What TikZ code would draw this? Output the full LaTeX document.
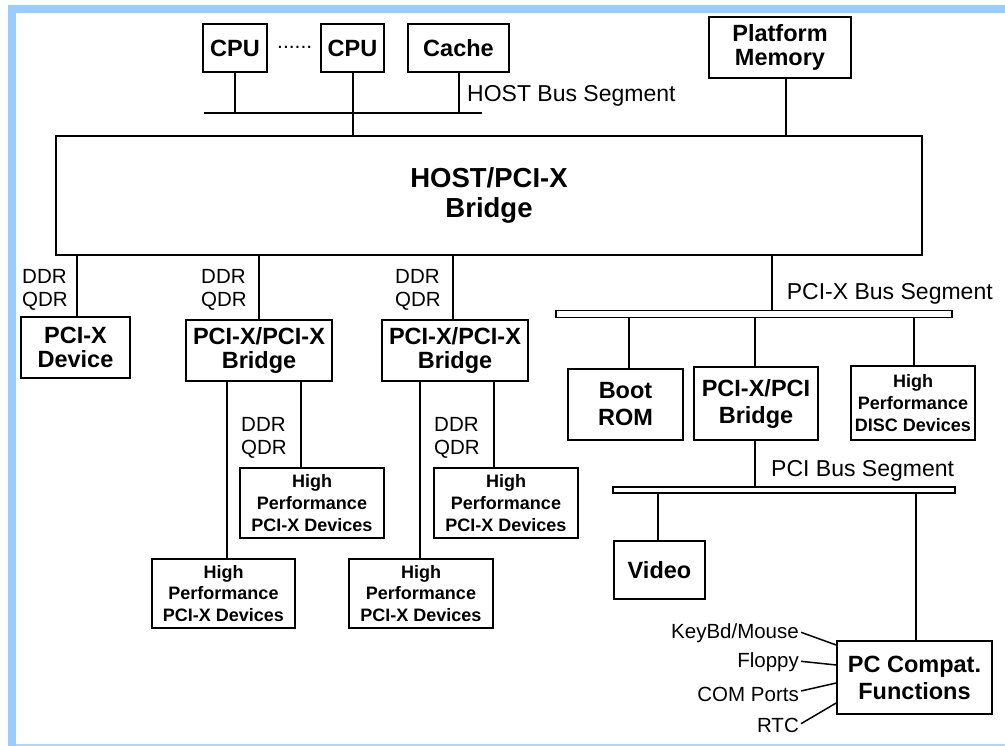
\documentclass[tikz,border=0pt]{standalone}
\usepackage{fontspec}
\setmainfont{Liberation Sans}
\usetikzlibrary{calc}
\definecolor{framebl}{RGB}{153,204,255}

\begin{document}
\begin{tikzpicture}[x=1pt,y=-1pt,
  box/.style={draw, line width=1.6pt, inner sep=0pt, align=center,
    font=\bfseries\fontsize{23.5}{24}\selectfont},
  wbox/.style={box, font=\bfseries\fontsize{23.5}{27}\selectfont},
  sbox/.style={box, font=\bfseries\fontsize{18}{21.7}\selectfont},
  bigbox/.style={box, font=\bfseries\fontsize{27.5}{30}\selectfont},
  bus/.style={draw, line width=1.5pt, inner sep=0pt, minimum height=7pt},
  hostbus/.style={line width=2.6pt},
  wire/.style={line width=2pt},
  thinwire/.style={line width=1.5pt},
  rate/.style={inner sep=0pt, align=left, anchor=west,
    font=\fontsize{20.5}{23}\selectfont},
  buslabel/.style={inner sep=0pt, anchor=base west,
    font=\fontsize{23}{27}\selectfont},
  sidelabel/.style={inner sep=0pt, anchor=base east,
    font=\fontsize{20.5}{24}\selectfont}]

\useasboundingbox (0,0) rectangle (1005,746);
\fill[white] (0,0) rectangle (1005,746);

% frame
\fill[framebl] (8,5) rectangle (1005,13);
\fill[framebl] (8,5) rectangle (16,746);
\fill[framebl!80] (16,743.5) rectangle (1005,745.5);

% host side
\node[box, minimum width=64pt, minimum height=48pt] (cpua) at (235,48) {CPU};
\node[box, minimum width=63pt, minimum height=48pt] (cpub) at (352.5,48) {CPU};
\node[inner sep=0pt, anchor=base west, font=\fontsize{21}{24}\selectfont]
  (dots) at (277,48.5) {......};
\node[box, minimum width=101pt, minimum height=48pt] (cache) at (458.5,48) {Cache};
\node[box, minimum width=142pt, minimum height=61pt] (pmem) at (780,47.5) {Platform\\Memory};
\node[bigbox, minimum width=866pt, minimum height=119pt] (host) at (489,195.5) {HOST/PCI-X\\Bridge};

\coordinate (hbL) at (204,113);
\coordinate (hbR) at (482,113);
\draw[hostbus] (hbL) -- (hbR);
\node[buslabel] (hblabel) at (467,101.7) {HOST Bus Segment};

\draw[wire] (cpua.south) -- (cpua.south |- hbL);
\draw[wire] (cache.south) -- (cache.south |- hbL);
\draw[wire] (cpub.south) -- (cpub.south |- host.north);
\coordinate (xpm) at (786,0);
\draw[wire] (pmem.south -| xpm) -- (host.north -| xpm);

% PCI-X side, left
\node[box, minimum width=109pt, minimum height=61pt] (pxdev) at (75.5,347.5) {PCI-X\\Device};
\node[box, minimum width=146pt, minimum height=61pt] (brA) at (259,350.5) {PCI-X/PCI-X\\Bridge};
\node[box, minimum width=146pt, minimum height=61pt] (brB) at (455,350.5) {PCI-X/PCI-X\\Bridge};

\coordinate (xdev) at (76.5,0);
\coordinate (xbrA) at (259.3,0);
\coordinate (xbrB) at (453,0);
\draw[wire] (host.south -| xdev) -- (pxdev.north -| xdev);
\draw[wire] (host.south -| xbrA) -- (brA.north -| xbrA);
\draw[wire] (host.south -| xbrB) -- (brB.north -| xbrB);

\node[rate] (rdev) at (22,290) {DDR\\QDR};
\node[rate] (rbrA) at (201,290) {DDR\\QDR};
\node[rate] (rbrB) at (395,290) {DDR\\QDR};

\node[sbox, minimum width=144pt, minimum height=70pt] (hpA1) at (312,503) {High\\Performance\\PCI-X Devices};
\node[sbox, minimum width=143pt, minimum height=69pt] (hpA2) at (223.5,593.5) {High\\Performance\\PCI-X Devices};
\node[sbox, minimum width=144pt, minimum height=70pt] (hpB1) at (506,503) {High\\Performance\\PCI-X Devices};
\node[sbox, minimum width=144pt, minimum height=69pt] (hpB2) at (421,593.5) {High\\Performance\\PCI-X Devices};

\coordinate (xA2) at (227,0);
\coordinate (xA1) at (301,0);
\coordinate (xB2) at (420,0);
\coordinate (xB1) at (494,0);
\draw[wire] (brA.south -| xA2) -- (hpA2.north -| xA2);
\draw[wire] (brA.south -| xA1) -- (hpA1.north -| xA1);
\draw[wire] (brB.south -| xB2) -- (hpB2.north -| xB2);
\draw[wire] (brB.south -| xB1) -- (hpB1.north -| xB1);

\node[rate] (rA) at (241,438) {DDR\\QDR};
\node[rate] (rB) at (434,438) {DDR\\QDR};

% PCI-X bus segment
\node[bus, minimum width=396pt] (pxbus) at (754,314) {};
\node[buslabel] (pxlabel) at (786.7,299.3) {PCI-X Bus Segment};
\coordinate (xpx) at (772.3,0);
\draw[wire] (host.south -| xpx) -- (pxbus.north -| xpx);

\node[wbox, minimum width=115pt, minimum height=71pt] (boot) at (625.5,404.5) {Boot\\ROM};
\node[wbox, minimum width=124pt, minimum height=73pt] (pcib) at (756,403.5) {PCI-X/PCI\\Bridge};
\node[sbox, minimum width=124pt, minimum height=74pt] (disc) at (913,403) {High\\Performance\\DISC Devices};

\coordinate (xboot) at (629,0);
\coordinate (xpcib) at (755,0);
\coordinate (xdisc) at (914.3,0);
\draw[wire] (pxbus.south -| xboot) -- (boot.north -| xboot);
\draw[wire] (pxbus.south -| xpcib) -- (pcib.north -| xpcib);
\draw[wire] (pxbus.south -| xdisc) -- (disc.north -| xdisc);

% PCI bus segment
\node[bus, minimum width=342pt, minimum height=6pt] (pcibus) at (784,490) {};
\node[buslabel] (pcilabel) at (771,476.7) {PCI Bus Segment};
\draw[wire] (pcib.south -| xpcib) -- (pcibus.north -| xpcib);

\node[box, minimum width=91pt, minimum height=58pt] (video) at (659.5,570) {Video};
\node[wbox, minimum width=155pt, minimum height=73pt] (pcc) at (914.5,677.5) {PC Compat.\\Functions};

\coordinate (xvid) at (658.3,0);
\coordinate (xpcc) at (916,0);
\draw[wire] (pcibus.south -| xvid) -- (video.north -| xvid);
\draw[wire] (pcibus.south -| xpcc) -- (pcc.north -| xpcc);

% legacy interfaces
\node[sidelabel] (kbd) at (799,638.3) {KeyBd/Mouse};
\node[sidelabel] (flp) at (799,667.3) {Floppy};
\node[sidelabel] (com) at (799,701) {COM Ports};
\node[sidelabel] (rtc) at (799,732.7) {RTC};

\draw[thinwire] ($(kbd.base east)+(2,-6)$) -- ($(pcc.west)+(0,-32.5)$);
\draw[thinwire] ($(flp.base east)+(2,-6)$) -- ($(pcc.west)+(0,-12.5)$);
\draw[thinwire] ($(com.base east)+(2,-10)$) -- ($(pcc.west)+(0,5.5)$);
\draw[thinwire] ($(rtc.base east)+(2,-9)$) -- ($(pcc.west)+(0,25.5)$);

\end{tikzpicture}
\end{document}
